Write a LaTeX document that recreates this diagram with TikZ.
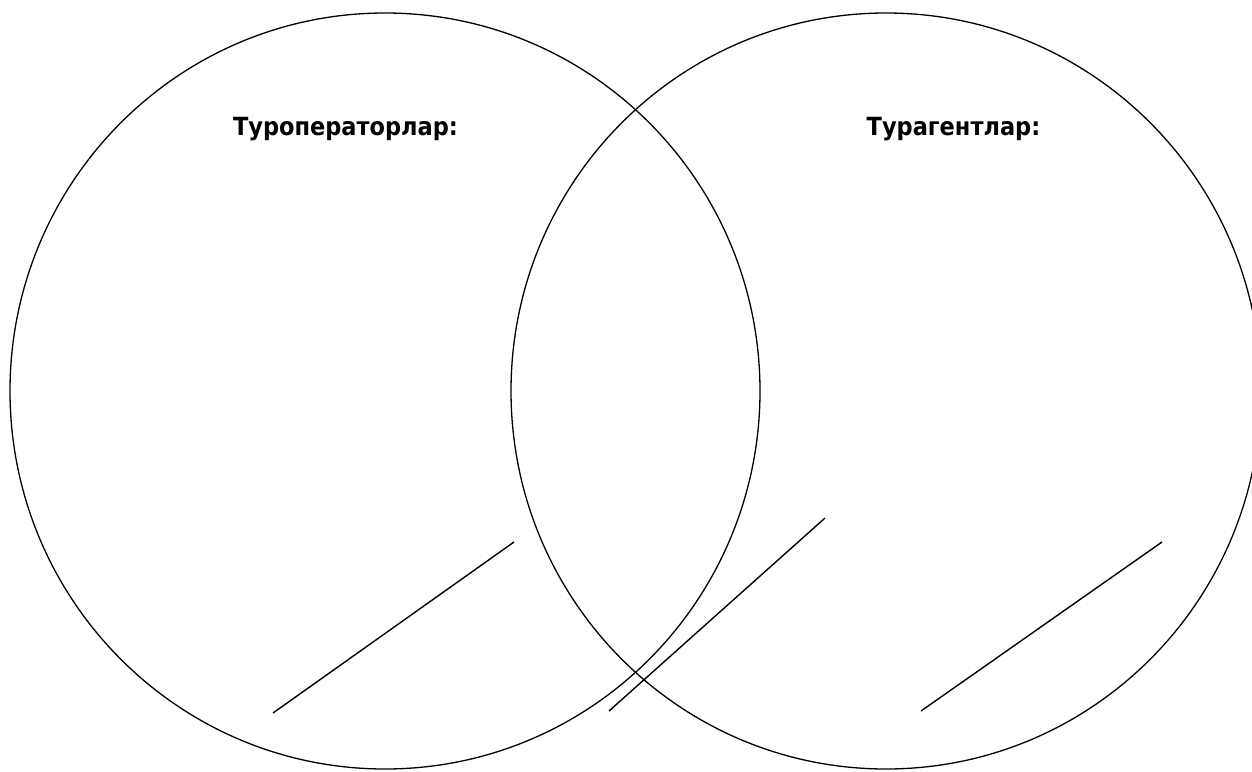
\documentclass[tikz,border=0pt]{standalone}
\usepackage{fontspec}
\setmainfont{DejaVu Sans Condensed}
\usepackage{tikz}
\usetikzlibrary{calc,positioning}
\tikzset{ring/.style={line width=1.3pt},
  mark line/.style={line width=1.4pt},
  title/.style={font=\bfseries\fontsize{25}{30}\selectfont,anchor=base}}

\begin{document}
\begin{tikzpicture}[x=1pt,y=-1pt]
\useasboundingbox (0,0) rectangle (1252,771);
\draw[ring] (385,391) ellipse [x radius=375,y radius=378];
\draw[ring] (886,391) ellipse [x radius=375,y radius=378];
\node[title] (tourop) at (345.5,135) {Туроператорлар:};
\node[title] (touragent) at (953.5,135) {Турагентлар:};
\foreach \a/\b in {273/713,609/711,921/711} {\coordinate (s\a) at (\a,\b);}
\draw[mark line] (s273)--(514,542);
\draw[mark line] (s609)--(825,518);
\draw[mark line] (s921)--(1162,542);
\end{tikzpicture}
\end{document}
